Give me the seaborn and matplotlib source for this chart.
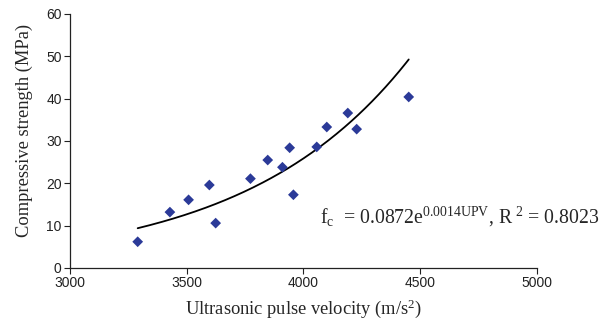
import numpy as np
import pandas as pd
import matplotlib
matplotlib.use("Agg")
import matplotlib.pyplot as plt
import seaborn as sns

upv = [3290, 3428, 3508, 3597, 3624, 3773, 3847, 3910, 3941, 3957, 4057, 4100, 4190, 4228, 4451]
fc = [6.2, 13.2, 16.1, 19.6, 10.6, 21.1, 25.5, 23.8, 28.4, 17.3, 28.6, 33.3, 36.6, 32.8, 40.4]
xticks = [3000, 3500, 4000, 4500, 5000]
yticks = [0, 10, 20, 30, 40, 50, 60]
trend_a = 0.0859
trend_b = 0.001427

sns.set_style("white")
plt.rcParams['font.family'] = ['Liberation Sans', 'DejaVu Sans']
plt.rcParams['mathtext.fontset'] = 'custom'
plt.rcParams['mathtext.rm'] = 'Liberation Serif'
plt.rcParams['mathtext.it'] = 'Liberation Serif'

df = pd.DataFrame({"UPV": upv, "fc": fc})
xs = np.linspace(min(upv), max(upv), 200)
trend = pd.DataFrame({"UPV": xs, "fc": trend_a * np.exp(trend_b * xs)})

fig = plt.figure(figsize=(6.15, 3.25), dpi=100)
ax = fig.add_axes([0.1138, 0.1754, 0.873 - 0.1138, 0.957 - 0.1754])

sns.lineplot(data=trend, x="UPV", y="fc", ax=ax, color="black", linewidth=1.3)
sns.scatterplot(data=df, x="UPV", y="fc", ax=ax, marker="D", color="#2B3A98",
                s=30, edgecolor="none", zorder=3)

ax.set_xlim(3000, 5000)
ax.set_ylim(0, 60)
ax.set_xticks(xticks)
ax.set_yticks(yticks)
ax.tick_params(axis="both", direction="out", length=4, width=0.8, labelsize=10,
               colors="#222222", bottom=True, left=True, pad=2)
for s in ["top", "right"]:
    ax.spines[s].set_visible(False)
for s in ["left", "bottom"]:
    ax.spines[s].set_color("#222222")
    ax.spines[s].set_linewidth(0.9)

ax.set_xlabel(r"Ultrasonic pulse velocity (m/s$^\mathregular{2}$)", family="Liberation Serif",
              fontsize=13.3, labelpad=5.5)
ax.set_ylabel("Compressive strength (MPa)", family="Liberation Serif", fontsize=13.3)
ax.yaxis.set_label_coords(-0.079, 0.543)

ax.text(4070, 10.6, r"f$_\mathregular{c}$  = 0.0872e$^\mathregular{0.0014UPV}$, R$^\mathregular{\ 2}$ = 0.8023",
        family="Liberation Serif", fontsize=14.2, ha="left", va="baseline")

fig.savefig("out.png", dpi=100)
